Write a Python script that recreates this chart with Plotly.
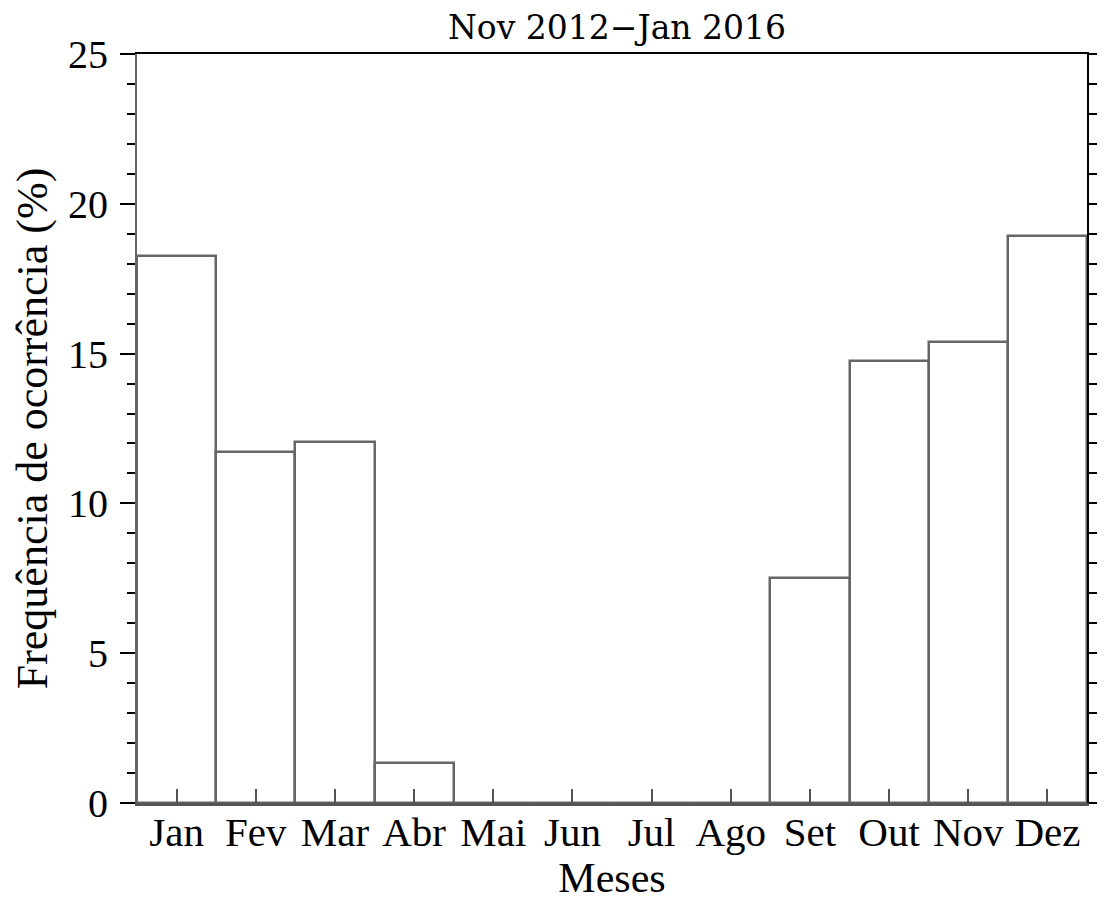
import plotly.graph_objects as go

months = ["Jan", "Fev", "Mar", "Abr", "Mai", "Jun", "Jul", "Ago", "Set", "Out", "Nov", "Dez"]
freq = [18.26, 11.70, 12.05, 1.34, 0.0, 0.0, 0.0, 0.0, 7.52, 14.74, 15.40, 18.93]
y_ticks = [0, 5, 10, 15, 20, 25]

SERIF = "Liberation Serif"

# page body has an 8px margin, so the figure is 8px smaller than the window
W, H = 1097, 898

fig = go.Figure()
fig.add_trace(go.Bar(
    x=months, y=freq, width=1.0,
    marker=dict(color="white", line=dict(color="#666666", width=2.5)),
    showlegend=False, hoverinfo="x+y",
))
# invisible helper trace for the top / right frame axes
fig.add_trace(go.Scatter(x=months, y=freq, xaxis="x2", yaxis="y2",
                         mode="markers", marker=dict(opacity=0),
                         showlegend=False, hoverinfo="skip"))

fig.update_layout(
    width=W, height=H,
    margin=dict(l=129, r=8, t=46, b=103),
    paper_bgcolor="white", plot_bgcolor="white",
    bargap=0,
    title=dict(text="Nov 2012\u2212Jan 2016", x=(129 + 1089) / 2 / W, xanchor="center",
               y=1 - 19 / H, yanchor="middle",
               font=dict(family="DejaVu Serif", size=33, color="black")),
    xaxis=dict(
        type="category", range=[-0.5, 11.5],
        showline=True, linecolor="#555555", linewidth=2.5,
        ticks="inside", ticklen=14, tickwidth=1.5, tickcolor="#555555",
        tickfont=dict(family=SERIF, size=41, color="black"),
        ticklabelstandoff=-9,
        showgrid=False, zeroline=False,
        title=dict(text="Meses", font=dict(family=SERIF, size=42, color="black"), standoff=0),
        automargin=False,
    ),
    xaxis2=dict(
        type="category", range=[-0.5, 11.5], overlaying="x", side="top",
        showline=True, linecolor="black", linewidth=2,
        ticks="", showticklabels=False, showgrid=False, zeroline=False,
    ),
    yaxis=dict(
        range=[0, 25], tickvals=y_ticks,
        showline=True, linecolor="#666666", linewidth=2,
        ticks="outside", ticklen=15, tickwidth=1.5, tickcolor="black",
        minor=dict(dtick=1, ticks="outside", ticklen=8, tickwidth=1.5, tickcolor="black"),
        tickfont=dict(family=SERIF, size=40, color="black"),
        ticklabelstandoff=4,
        showgrid=False, zeroline=False,
        title=dict(text="Frequência de ocorrência (%)",
                   font=dict(family=SERIF, size=44, color="black"), standoff=8),
        automargin=False,
    ),
    yaxis2=dict(
        range=[0, 25], overlaying="y", side="right", dtick=1,
        showline=True, linecolor="black", linewidth=2,
        ticks="outside", ticklen=10, tickwidth=1.5, tickcolor="black",
        showticklabels=False, showgrid=False, zeroline=False,
    ),
)

fig.write_html("out.html")
